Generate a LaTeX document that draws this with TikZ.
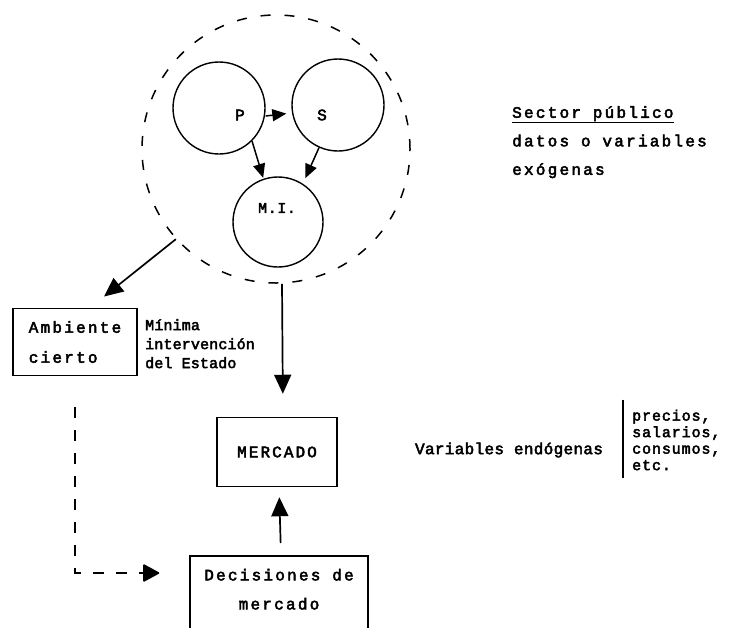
\documentclass[tikz,border=0pt]{standalone}
\usepackage{fontspec}
\usetikzlibrary{arrows.meta}
\newfontfamily\tw{Liberation Mono}
\newcommand{\twsize}[3]{\tw\fontsize{#1}{#2}\selectfont\addfontfeature{LetterSpace=#3,FakeBold=3}}

\begin{document}
\begin{tikzpicture}[x=1pt,y=-1pt,
  ring/.style={circle,draw,line width=1.4pt,minimum size=92pt,inner sep=0pt},
  box/.style={draw,line width=1.5pt,inner sep=0pt},
  arr/.style={-{Triangle[length=19pt,width=17pt]},line width=1.7pt},
  smallarr/.style={-{Triangle[length=14pt,width=12pt]},line width=1.5pt},
  dasharr/.style={-{Triangle[length=17pt,width=18pt,round,sep=0pt]},line width=1.7pt,dash pattern=on 11pt off 12pt}]
  \useasboundingbox (0,0) rectangle (730,627);
  \clip (0,0) rectangle (730,627);

  % sector publico
  \node[circle,draw,dash pattern=on 10pt off 14pt,line width=1.5pt,minimum size=268pt] (sp) at (276,149) {};
  \node[ring] (p) at (219,108) {};
  \node[ring] (s) at (338,105) {};
  \node[ring,minimum size=90pt] (mi) at (278,222) {};
  \node[font=\twsize{16}{18}{0}] (ptxt) at (240,115) {P};
  \node[font=\twsize{16}{18}{0}] (stxt) at (322,115) {S};
  \node[font=\twsize{15}{18}{4}] (mitxt) at (277,208) {M.I.};
  \path[smallarr]
    ([yshift=-8pt]p.east) edge[shorten >=5pt] ([yshift=-8pt]s.west)
    (p.-45) edge ([xshift=-3pt]mi.105)
    (s.-114) edge[shorten >=6pt] (mi.57);

  \node[font=\twsize{16}{28.5}{14},inner sep=0pt,align=left,anchor=north west] (sptxt) at (512,106)
    {\underline{Sector público}\\datos o variables\\exógenas};

  % ambiente y mercado
  \node[box,minimum width=124pt,minimum height=67pt,align=left,font=\twsize{16}{30}{14}] (amb) at (75,342) {Ambiente\\cierto};
  \node[font=\twsize{15}{19}{1},inner sep=0pt,align=left,anchor=north west] (min) at (145,319)
    {Mínima\\intervención\\del Estado};
  \node[box,minimum width=120pt,minimum height=69pt,font=\twsize{16}{20}{13}] (merc) at (277,452) {MERCADO};
  \node[box,anchor=north,minimum width=178pt,inner ysep=13pt,align=center,font=\twsize{16}{29}{14}] (dec) at (279,555)
    {Decisiones de\\mercado\\~};
  \path[arr]
    (sp.222) edge[shorten >=18pt] ([xshift=15pt]amb.north)
    ([xshift=6pt]sp.south) edge[shorten >=23pt] ([xshift=6pt]merc.north)
    ([xshift=2pt]dec.north) edge[shorten <=12pt,shorten >=10pt] ([xshift=2pt]merc.south);
  \draw[dasharr,shorten >=30pt] ([yshift=-31pt]amb.south) |- ([yshift=-18pt]dec.north west);

  % variables endogenas
  \node[font=\twsize{16}{20}{2}] (endo) at (509,450) {Variables endógenas};
  \node[font=\twsize{15}{16.5}{6},inner sep=0pt,align=left,anchor=west] (lst) at (632,440)
    {precios,\\salarios,\\consumos,\\etc.};
  \draw[line width=1.5pt] ([xshift=-9pt,yshift=10pt]lst.north west) -- ([xshift=-9pt,yshift=-8pt]lst.south west);
\end{tikzpicture}
\end{document}
